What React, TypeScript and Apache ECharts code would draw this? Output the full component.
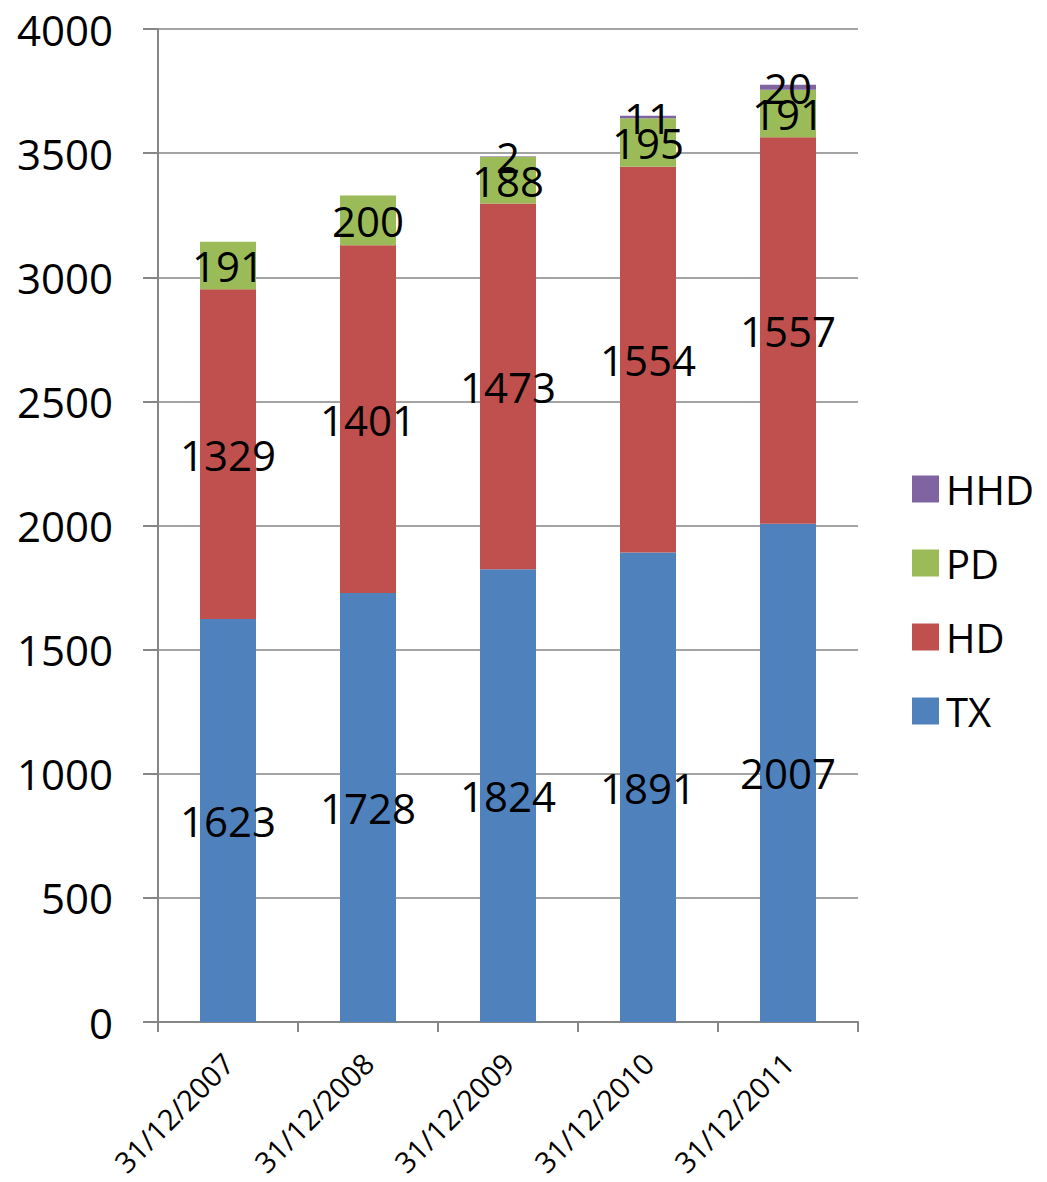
import React, { useEffect, useRef } from "react";
import * as echarts from "echarts";

const categories = ["31/12/2007", "31/12/2008", "31/12/2009", "31/12/2010", "31/12/2011"];
const txValues = [1623, 1728, 1824, 1891, 2007];
const hdValues = [1329, 1401, 1473, 1554, 1557];
const pdValues = [191, 200, 188, 195, 191];
const hhdValues = [0, 0, 2, 11, 20];
const legendOrder = ["HHD", "PD", "HD", "TX"];

const FONT = "'Open Sans', 'Noto Sans', sans-serif";

export default function App() {
  const ref = useRef<HTMLDivElement>(null);
  useEffect(() => {
    document.body.style.margin = "0";
    const chart = echarts.init(ref.current!, null, { renderer: "svg" });
    const label = {
      show: true,
      position: "inside" as const,
      color: "#000",
      fontSize: 42,
      fontFamily: FONT,
      formatter: (p: any) => (p.value ? String(p.value) : ""),
    };
    const mk = (name: string, data: number[], color: string) => ({
      name,
      type: "bar" as const,
      stack: "total",
      data,
      barWidth: "40%",
      itemStyle: { color },
      label,
    });
    chart.setOption({
      animation: false,
      textStyle: { fontFamily: FONT },
      grid: { left: 158, right: 189, top: 29, bottom: 160 },
      legend: {
        orient: "vertical",
        left: 907,
        top: 464,
        itemWidth: 27,
        itemHeight: 27,
        itemGap: 34,
        icon: "rect",
        data: legendOrder,
        textStyle: { fontSize: 40, color: "#000", padding: [0, 0, 0, 2] },
      },
      xAxis: {
        type: "category",
        data: categories,
        axisLine: { lineStyle: { color: "#868686", width: 2 } },
        axisTick: { show: true, length: 10, lineStyle: { color: "#868686", width: 2 } },
        axisLabel: { rotate: 45, fontSize: 29, color: "#000", margin: 36, interval: 0 },
      },
      yAxis: {
        type: "value",
        min: 0,
        max: 4000,
        interval: 500,
        axisLine: { show: true, lineStyle: { color: "#868686", width: 2 } },
        axisTick: { show: true, length: 15, lineStyle: { color: "#868686", width: 2 } },
        axisLabel: { fontSize: 42, color: "#000", margin: 45, formatter: (v: number) => String(v) },
        splitLine: { lineStyle: { color: "#868686", width: 1.5 } },
      },
      series: [
        mk("TX", txValues, "#4F81BD"),
        mk("HD", hdValues, "#C0504D"),
        mk("PD", pdValues, "#9BBB59"),
        mk("HHD", hhdValues, "#8064A2"),
      ],
    });
    return () => chart.dispose();
  }, []);
  return <div ref={ref} style={{ width: 1047, height: 1182 }} />;
}
